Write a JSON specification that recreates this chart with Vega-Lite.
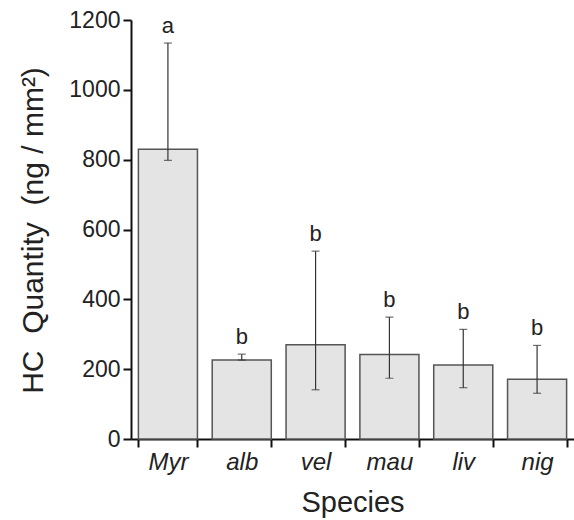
{
  "$schema": "https://vega.github.io/schema/vega-lite/v6.json",
  "autosize": {"type": "none"},
  "padding": {"left": 131, "top": 20, "right": 0, "bottom": 81},
  "width": 443,
  "height": 419,
  "background": "white",
  "config": {"view": {"stroke": null}, "font": "Liberation Sans"},
  "data": {
    "values": [
      {"species": "Myr", "mean": 830, "lo": 798, "hi": 1134, "group": "a"},
      {"species": "alb", "mean": 226, "lo": 226, "hi": 243, "group": "b"},
      {"species": "vel", "mean": 270, "lo": 141, "hi": 538, "group": "b"},
      {"species": "mau", "mean": 242, "lo": 174, "hi": 349, "group": "b"},
      {"species": "liv", "mean": 212, "lo": 147, "hi": 314, "group": "b"},
      {"species": "nig", "mean": 171, "lo": 131, "hi": 268, "group": "b"}
    ]
  },
  "encoding": {
    "x": {
      "field": "species",
      "type": "nominal",
      "sort": null,
      "scale": {"paddingInner": 0.2, "paddingOuter": 0.1},
      "axis": {
        "title": "Species",
        "titleFontSize": 29,
        "titleFontWeight": "normal",
        "titleColor": "#222",
        "titleY": 72,
        "titleBaseline": "alphabetic",
        "labelAngle": 0,
        "labelFontSize": 24,
        "labelFontStyle": "italic",
        "labelColor": "#222",
        "labelPadding": 3,
        "domainColor": "#111",
        "domainWidth": 2,
        "tickColor": "#111",
        "tickWidth": 2,
        "tickSize": 8,
        "tickBand": "extent"
      }
    }
  },
  "layer": [
    {
      "mark": {"type": "bar", "fill": "#e4e4e4", "stroke": "#555", "strokeWidth": 1.5},
      "encoding": {
        "y": {
          "field": "mean",
          "type": "quantitative",
          "scale": {"domain": [0, 1200], "nice": false},
          "axis": {
            "title": "HC\u00a0\u00a0Quantity\u00a0\u00a0(ng / mm²)",
            "titleFontSize": 30,
            "titleFontWeight": "normal",
            "titleColor": "#222",
            "titleX": -89,
            "titleY": 210,
            "titleAngle": -90,
            "titleBaseline": "alphabetic",
            "values": [0, 200, 400, 600, 800, 1000, 1200],
            "format": "d",
            "grid": false,
            "labelFontSize": 23,
            "labelColor": "#222",
            "labelPadding": 3,
            "domainColor": "#111",
            "domainWidth": 2,
            "tickColor": "#111",
            "tickWidth": 2,
            "tickSize": 8
          }
        }
      }
    },
    {
      "mark": {"type": "rule", "color": "#333", "strokeWidth": 1.2},
      "encoding": {
        "y": {"field": "lo", "type": "quantitative"},
        "y2": {"field": "hi"}
      }
    },
    {
      "mark": {"type": "tick", "color": "#333", "thickness": 1.2, "size": 8},
      "encoding": {"y": {"field": "hi", "type": "quantitative"}}
    },
    {
      "mark": {"type": "tick", "color": "#333", "thickness": 1.2, "size": 8},
      "encoding": {"y": {"field": "lo", "type": "quantitative"}}
    },
    {
      "mark": {"type": "text", "fontSize": 22, "color": "#222", "baseline": "alphabetic", "dy": -10},
      "encoding": {
        "y": {"field": "hi", "type": "quantitative"},
        "text": {"field": "group"}
      }
    }
  ]
}
